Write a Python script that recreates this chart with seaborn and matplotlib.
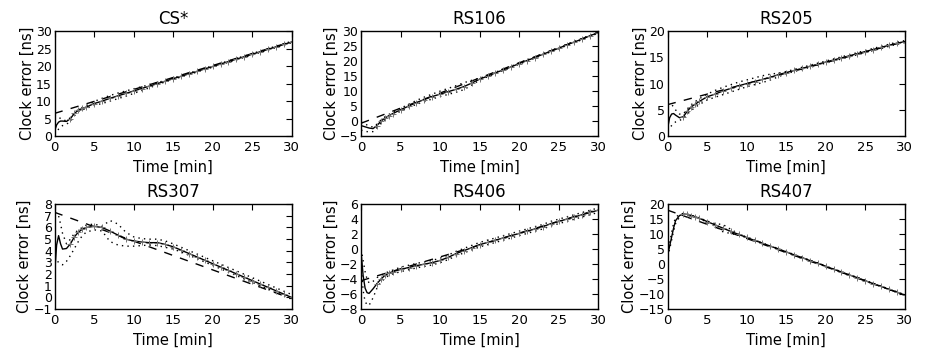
import numpy as np
import pandas as pd
import seaborn as sns
import matplotlib.pyplot as plt

# === Data ===

t = [0, 0.25, 0.5, 0.75, 1, 1.5, 2, 2.5, 3, 3.5, 4, 5, 6, 7, 8, 9, 10, 11, 12, 13, 14,
     15, 16, 17, 18, 19, 20, 21, 22, 23, 24, 25, 26, 27, 28, 29, 30]
t_fit = [0, 30]

stations = ["CS*", "RS106", "RS205", "RS307", "RS406", "RS407"]

cs_mid = [1.5, 3.2, 4.0, 4.3, 4.3, 4.2, 5.0, 6.5, 7.4, 7.9, 8.3, 9.3, 10.0, 10.8, 11.5, 12.2, 12.9,
          13.6, 14.3, 15.0, 15.7, 16.4, 17.1, 17.8, 18.5, 19.2, 19.9, 20.6, 21.3, 22.0, 22.7, 23.4,
          24.1, 24.8, 25.5, 26.2, 26.9]
cs_hi = [6.0, 5.8, 5.5, 5.0, 4.6, 4.4, 5.3, 6.7, 7.6, 8.2, 8.7, 9.9, 10.8, 11.6, 12.3, 12.9, 13.5,
         14.1, 14.7, 15.3, 15.9, 16.6, 17.3, 18.0, 18.7, 19.4, 20.1, 20.8, 21.5, 22.2, 22.9, 23.6,
         24.3, 25.0, 25.7, 26.4, 27.1]
cs_lo = [0.5, 1.2, 2.0, 2.6, 3.0, 3.4, 4.2, 5.8, 7.0, 7.5, 7.9, 8.8, 9.3, 10.0, 10.7, 11.4, 12.2,
         13.0, 13.8, 14.7, 15.5, 16.2, 16.9, 17.6, 18.3, 19.0, 19.7, 20.4, 21.1, 21.8, 22.5, 23.2,
         23.9, 24.6, 25.3, 26.0, 26.7]
cs_fit = [6.5, 27.0]

rs106_mid = [-1.5, -1.7, -1.9, -2.1, -2.3, -2.5, -1.5, 0.0, 1.0, 1.8, 2.5, 3.8, 5.0, 6.2, 7.2, 8.2,
             9.0, 9.8, 10.6, 11.5, 12.7, 14.0, 15.0, 16.1, 17.1, 18.1, 19.2, 20.2, 21.2, 22.3, 23.3,
             24.3, 25.4, 26.4, 27.4, 28.5, 29.5]
rs106_hi = [-0.3, -0.6, -0.9, -1.3, -1.6, -2.0, -1.0, 0.4, 1.4, 2.2, 3.0, 4.3, 5.6, 6.9, 8.0, 9.0,
            10.0, 10.9, 11.8, 12.8, 13.6, 14.3, 15.2, 16.3, 17.3, 18.3, 19.4, 20.4, 21.4, 22.5, 23.5,
            24.5, 25.6, 26.6, 27.6, 28.7, 29.7]
rs106_lo = [-3.0, -3.2, -3.4, -3.5, -3.6, -3.5, -2.2, -0.6, 0.5, 1.3, 2.0, 3.3, 4.5, 5.6, 6.5, 7.4,
            8.2, 8.9, 9.6, 10.5, 12.0, 13.7, 14.8, 15.9, 16.9, 17.9, 19.0, 20.0, 21.0, 22.1, 23.1,
            24.1, 25.2, 26.2, 27.2, 28.3, 29.3]
rs106_fit = [-0.7, 29.5]

rs205_mid = [1.5, 3.5, 4.2, 4.3, 4.0, 3.5, 3.7, 4.8, 5.6, 6.1, 6.6, 7.5, 8.0, 8.6, 9.1, 9.6, 10.0,
             10.4, 10.8, 11.2, 11.7, 12.1, 12.5, 12.9, 13.3, 13.7, 14.1, 14.5, 14.9, 15.3, 15.7,
             16.1, 16.5, 16.9, 17.3, 17.7, 18.0]
rs205_hi = [5.5, 5.8, 6.0, 5.6, 5.0, 4.2, 4.2, 5.2, 6.0, 6.6, 7.1, 8.0, 8.7, 9.3, 9.8, 10.3, 10.7,
            11.1, 11.5, 11.8, 12.0, 12.3, 12.7, 13.1, 13.5, 13.9, 14.3, 14.7, 15.1, 15.5, 15.9,
            16.3, 16.7, 17.1, 17.5, 17.9, 18.2]
rs205_lo = [1.0, 1.6, 2.0, 2.4, 2.7, 3.0, 3.3, 4.2, 4.9, 5.5, 6.0, 6.9, 7.4, 7.9, 8.4, 8.9, 9.4,
            9.8, 10.2, 10.7, 11.3, 11.9, 12.3, 12.7, 13.1, 13.5, 13.9, 14.3, 14.7, 15.1, 15.5,
            15.9, 16.3, 16.7, 17.1, 17.5, 17.8]
rs205_fit = [6.0, 18.0]

rs307_mid = [2.0, 4.5, 5.3, 4.6, 4.15, 4.2, 4.6, 5.2, 5.6, 5.85, 6.0, 6.1, 6.0, 5.7, 5.35, 5.0,
             4.85, 4.75, 4.7, 4.7, 4.55, 4.35, 4.06, 3.77, 3.48, 3.19, 2.9, 2.61, 2.32, 2.03, 1.74,
             1.45, 1.16, 0.87, 0.58, 0.29, 0.0]
rs307_hi = [7.3, 7.2, 7.0, 6.3, 5.5, 4.6, 5.0, 5.5, 5.8, 6.0, 6.2, 6.3, 6.1, 6.6, 6.3, 5.6, 5.2,
            5.05, 5.0, 5.0, 4.85, 4.6, 4.31, 4.02, 3.73, 3.44, 3.15, 2.86, 2.57, 2.28, 1.99, 1.70,
            1.41, 1.12, 0.83, 0.54, 0.25]
rs307_lo = [3.5, 3.2, 3.0, 2.9, 2.8, 3.1, 3.6, 4.2, 4.8, 5.3, 5.6, 5.8, 5.7, 4.8, 4.5, 4.4, 4.4,
            4.45, 4.5, 4.45, 4.3, 4.15, 3.9, 3.62, 3.33, 3.04, 2.75, 2.46, 2.17, 1.88, 1.59, 1.30,
            1.01, 0.72, 0.43, 0.14, -0.15]
rs307_fit = [7.3, -0.1]

rs406_mid = [-0.5, -3.5, -5.2, -5.8, -5.9, -5.3, -4.6, -4.0, -3.5, -3.2, -3.0, -2.7, -2.45, -2.2,
             -2.0, -1.8, -1.5, -1.1, -0.6, -0.2, 0.2, 0.6, 0.9, 1.2, 1.5, 1.8, 2.1, 2.4, 2.7, 3.0,
             3.4, 3.7, 4.0, 4.3, 4.6, 4.9, 5.2]
rs406_hi = [0.0, -1.5, -3.0, -4.0, -4.5, -4.3, -3.8, -3.5, -3.2, -3.0, -2.8, -2.4, -2.15, -1.9,
            -1.7, -1.5, -1.2, -0.8, -0.3, 0.1, 0.5, 0.9, 1.2, 1.5, 1.8, 2.1, 2.4, 2.7, 3.0, 3.3,
            3.7, 4.0, 4.3, 4.6, 4.9, 5.2, 5.5]
rs406_lo = [-2.0, -5.5, -7.0, -7.4, -7.5, -6.5, -5.2, -4.4, -3.9, -3.5, -3.3, -3.0, -2.75, -2.5,
            -2.3, -2.1, -1.8, -1.4, -0.9, -0.5, -0.1, 0.3, 0.6, 0.9, 1.2, 1.5, 1.8, 2.1, 2.4, 2.7,
            3.1, 3.4, 3.7, 4.0, 4.3, 4.6, 4.9]
rs406_fit = [-4.2, 5.3]

rs407_mid = [3.0, 6.0, 9.0, 12.0, 14.5, 16.2, 16.7, 16.6, 16.2, 15.8, 15.3, 14.2, 13.1, 12.0,
             10.9, 9.9, 8.9, 7.9, 7.0, 6.0, 5.1, 4.1, 3.1, 2.2, 1.2, 0.3, -0.7, -1.7, -2.6, -3.6,
             -4.5, -5.5, -6.5, -7.4, -8.4, -9.3, -10.3]
rs407_hi = [3.5, 7.0, 10.5, 13.5, 15.5, 16.7, 16.9, 16.7, 16.3, 15.9, 15.4, 14.4, 13.5, 13.2,
            11.6, 10.1, 9.0, 8.0, 7.1, 6.1, 5.2, 4.2, 3.2, 2.3, 1.3, 0.4, -0.6, -1.6, -2.5, -3.5,
            -4.4, -5.4, -6.4, -7.3, -8.3, -9.2, -10.2]
rs407_lo = [2.5, 5.0, 8.0, 11.0, 13.5, 15.7, 16.5, 16.5, 16.1, 15.7, 15.2, 14.0, 12.7, 10.8,
            10.2, 9.7, 8.8, 7.8, 6.9, 5.9, 5.0, 4.0, 3.0, 2.1, 1.1, 0.2, -0.8, -1.8, -2.7, -3.7,
            -4.6, -5.6, -6.6, -7.5, -8.5, -9.4, -10.4]
rs407_fit = [18.0, -10.3]

mids = [cs_mid, rs106_mid, rs205_mid, rs307_mid, rs406_mid, rs407_mid]
his = [cs_hi, rs106_hi, rs205_hi, rs307_hi, rs406_hi, rs407_hi]
los = [cs_lo, rs106_lo, rs205_lo, rs307_lo, rs406_lo, rs407_lo]
fits = [cs_fit, rs106_fit, rs205_fit, rs307_fit, rs406_fit, rs407_fit]

ylims = [(0, 30), (-5, 30), (0, 20), (-1, 8), (-8, 6), (-15, 20)]
ysteps = [5, 5, 5, 1, 2, 5]

# === Style (old matplotlib "classic" look) ===

sns.set_style("white")
plt.rcParams.update({
    "font.family": ["DejaVu Sans"],
    "text.color": "black",
    "axes.labelcolor": "black",
    "axes.edgecolor": "black",
    "axes.linewidth": 1.0,
    "xtick.direction": "in",
    "ytick.direction": "in",
    "xtick.top": True,
    "ytick.right": True,
    "xtick.major.size": 4,
    "ytick.major.size": 4,
    "xtick.color": "black",
    "ytick.color": "black",
    "xtick.labelsize": 9.5,
    "ytick.labelsize": 9,
})

DOTTED = (0, (1, 3))
DASHED = (0, (6, 6))

fig = plt.figure(figsize=(9.26, 3.62), dpi=100)

lefts = [0.059, 0.390, 0.721]
bottoms = [0.624, 0.146]
w, h = 0.256, 0.29

for i, name in enumerate(stations):
    ax = fig.add_axes([lefts[i % 3], bottoms[i // 3], w, h])

    df = pd.DataFrame({"t": t, "mid": mids[i], "hi": his[i], "lo": los[i]})
    fit_df = pd.DataFrame({"t": t_fit, "fit": fits[i]})

    sns.lineplot(data=df, x="t", y="hi", ax=ax, color="black", lw=1.0, ls=DOTTED, sort=False)
    sns.lineplot(data=df, x="t", y="lo", ax=ax, color="black", lw=1.0, ls=DOTTED, sort=False)
    sns.lineplot(data=fit_df, x="t", y="fit", ax=ax, color="black", lw=1.0, ls=DASHED, sort=False)
    sns.lineplot(data=df, x="t", y="mid", ax=ax, color="black", lw=1.0, sort=False)
    pts = df[df["t"] >= 2]
    ax.plot(pts["t"], pts["mid"], ls="none", marker="+", ms=4, mew=0.7, color="0.45")

    ax.set_xlim(0, 30)
    ax.set_ylim(*ylims[i])
    ax.set_xticks(np.arange(0, 31, 5))
    ax.set_yticks(np.arange(ylims[i][0], ylims[i][1] + 0.1, ysteps[i]))
    ax.tick_params(axis="y", pad=2)
    ax.set_title(name, fontsize=12, pad=5)
    ax.set_xlabel("Time [min]", fontsize=10.5)
    ax.set_ylabel("Clock error [ns]", fontsize=10.5, labelpad=1)

plt.savefig("out.png", dpi=100)
